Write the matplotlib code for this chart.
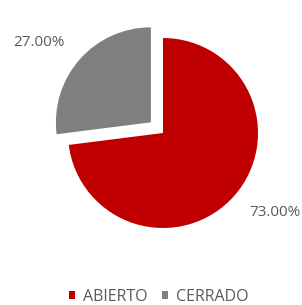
import matplotlib
matplotlib.use("Agg")
import matplotlib.pyplot as plt
import numpy as np

labels = ['ABIERTO', 'CERRADO']
values = [73.00, 27.00]
colors = ['#C00000', '#7F7F7F']
explode = [0, 0.17]

plt.rcParams['font.family'] = ['Open Sans', 'DejaVu Sans']

fig = plt.figure(figsize=(3.02, 3.05), dpi=100)
ax = fig.add_axes([0, 0, 1, 1])

wedges, texts, autotexts = ax.pie(values, colors=colors, explode=explode,
                                  startangle=90, counterclock=False,
                                  autopct='%.2f%%', pctdistance=1.45,
                                  textprops={'color': '#595959', 'fontsize': 11})
for w in wedges:
    w.set_linewidth(0)

# labels sit a little counter-clockwise of the wedge middle, like the original
for w, t in zip(wedges, autotexts):
    ang = np.deg2rad((w.theta1 + w.theta2) / 2 + 6)
    cx, cy = w.center
    t.set_position((cx + 1.45 * np.cos(ang), cy + 1.45 * np.sin(ang)))

# pie centre sits at pixel (163, 133), radius about 95 px
r = 95
ax.set_xlim(-163 / r, (302 - 163) / r)
ax.set_ylim((133 - 305) / r, 133 / r)
ax.set_aspect('auto')
ax.axis('off')

fig.legend(wedges, labels, loc='center', bbox_to_anchor=(0.526, 0.026), ncol=2,
           frameon=False, handlelength=0.4, handleheight=0.4, handletextpad=0.5,
           columnspacing=0.9, prop={'size': 11.5}, labelcolor='#595959')

fig.savefig('out.png', dpi=100)
